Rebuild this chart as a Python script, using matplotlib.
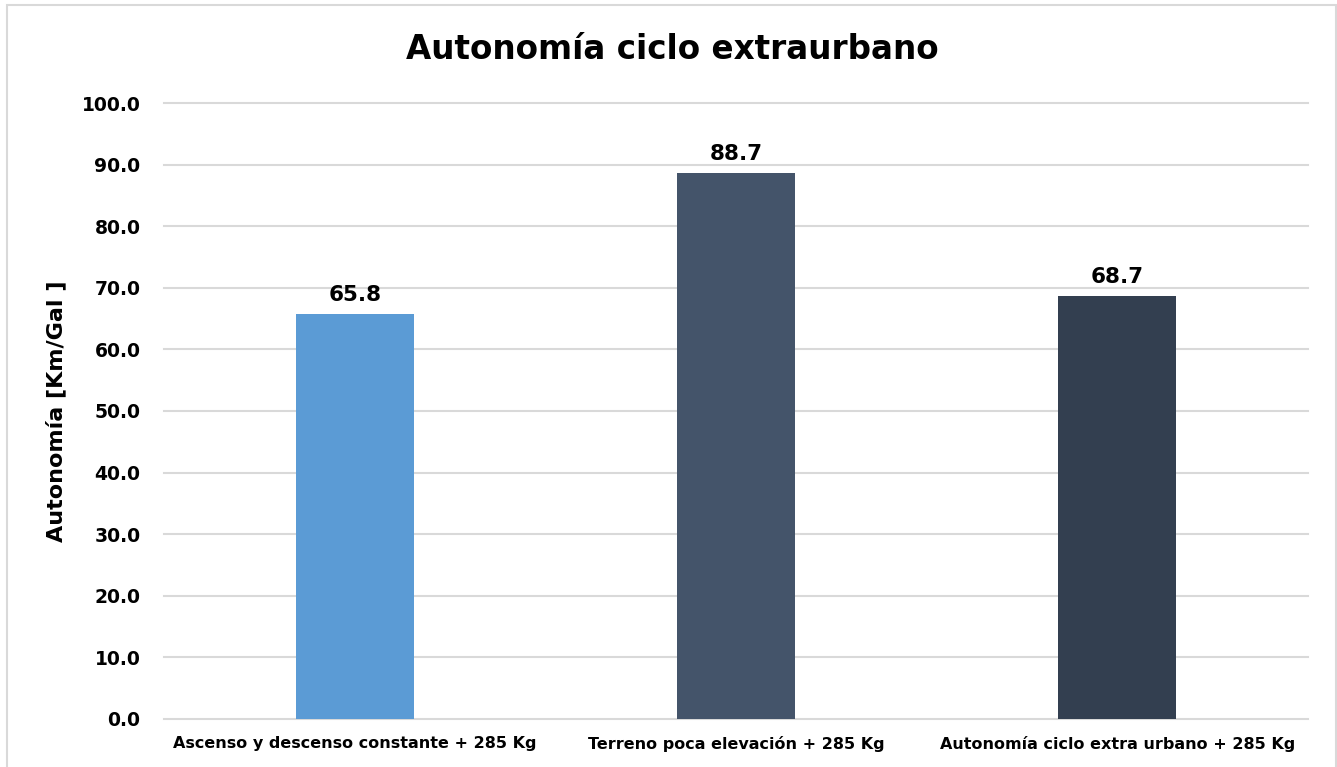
import matplotlib.pyplot as plt
from matplotlib.patches import Rectangle

categories = ["Ascenso y descenso constante + 285 Kg",
              "Terreno poca elevación + 285 Kg",
              "Autonomía ciclo extra urbano + 285 Kg"]
values = [65.8, 88.7, 68.7]
colors = ["#5B9BD5", "#44546A", "#333F50"]
yticks = [0, 10, 20, 30, 40, 50, 60, 70, 80, 90, 100]

plt.rcParams['font.family'] = ['DejaVu Sans']
plt.rcParams['font.weight'] = 'bold'

fig = plt.figure(figsize=(13.37, 7.67), dpi=100)
ax = fig.add_axes([0.1227, 0.0626, 0.8556, 0.8031])

x = range(len(categories))
ax.bar(x, values, width=0.31, color=colors, zorder=3)
for xi, v in zip(x, values):
    ax.text(xi, v + 1.4, f"{v:.1f}", ha='center', va='bottom',
            fontsize=15.5, fontweight='bold')

ax.set_xlim(-0.5, 2.5)
ax.set_ylim(0, 100)
ax.set_yticks(yticks)
ax.set_yticklabels([f"{t:.1f}" for t in yticks])
ax.set_xticks(list(x))
ax.set_xticklabels(categories)
ax.tick_params(axis='y', length=0, labelsize=13.5, pad=17)
ax.tick_params(axis='x', length=0, labelsize=11.5, pad=12)
for lbl in ax.get_xticklabels() + ax.get_yticklabels():
    lbl.set_fontweight('bold')

ax.grid(axis='y', color='#D9D9D9', linewidth=1.5, zorder=0)
for gl in ax.get_ygridlines():
    gl.set_clip_on(False)
for s in ax.spines.values():
    s.set_visible(False)

ax.set_ylabel("Autonomía [Km/Gal ]", fontsize=16, fontweight='bold', labelpad=11)
fig.text(0.5026, 0.935, "Autonomía ciclo extraurbano", ha='center', va='center',
         fontsize=23.5, fontweight='bold')

fig.patches.append(Rectangle((7 / 1337, -0.05), 1329 / 1337, 1.05 - 5 / 767,
                             transform=fig.transFigure, fill=False,
                             edgecolor='#D9D9D9', linewidth=1.5))

fig.savefig("out.png", dpi=100)
